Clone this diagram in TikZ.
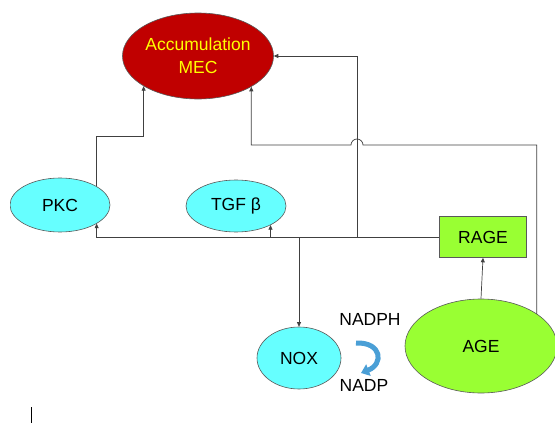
\documentclass[tikz,border=0pt]{standalone}
\usepackage{fontspec}
\setmainfont{Liberation Sans}
\usetikzlibrary{shapes.geometric,arrows.meta,calc}
\definecolor{mecred}{HTML}{C00000}
\definecolor{mecyellow}{HTML}{FFFF00}
\definecolor{cellcyan}{HTML}{66FFFF}
\definecolor{agegreen}{HTML}{99FF33}
\definecolor{nadpblue}{HTML}{4A9FD6}
\newcommand{\labelFont}[0]{\fontsize{17.5}{23}\selectfont}

\begin{document}
\begin{tikzpicture}[x=1pt, y=-1pt, >={Triangle[length=4.5pt,width=4pt]}]
  \tikzset{every node/.style={font=\labelFont},
    cell/.style={ellipse,draw=black!65,fill=cellcyan,inner sep=0pt,line width=0.6pt},
    box/.style={rectangle,draw=black!65,fill=agegreen,inner sep=0pt,line width=0.6pt},
    link/.style={draw=black!75,line width=0.7pt,->}}
  \useasboundingbox (0,0) rectangle (555,423);
  \clip (10,0) rectangle (555,423);
  \node[cell,fill=mecred,text=mecyellow,align=center,inner xsep=-2pt,minimum width=151pt,minimum height=86pt] (mec) at (198,56) {Accumulation\\MEC};
  \node[cell,minimum width=100pt,minimum height=54pt] (pkc) at (60,205) {PKC};
  \node[cell,minimum width=100pt,minimum height=52pt] (tgf) at (236,206) {TGF β};
  \node[box,minimum width=87pt,minimum height=41pt] (rage) at (483,237) {RAGE};
  \node[cell,minimum width=84pt,minimum height=62pt] (nox) at (299,358) {NOX};
  \node[cell,fill=agegreen,minimum width=152pt,minimum height=94pt] (age) at (481,346) {AGE};
  \node (nadph) at (370,319) {NADPH};
  \node (nadp) at (364,385) {NADP};
  \coordinate (up) at (357,237);
  \coordinate (hop) at (357,145);
  \draw[link] (rage.west) -| (pkc.333);
  \draw[link] (tgf.331 |- rage.west) -- (tgf.331);
  \draw[link] (nox.north |- rage.west) -- (nox.north);
  \draw[link] (up) |- (mec.east);
  \draw[link] (pkc.27) |- ($(pkc.27)!.5!(mec.209)$) -| (mec.209);
  \draw[link] (age.30) |- ([xshift=6pt]hop) arc[start angle=0,end angle=180,radius=6pt] -| (mec.330);
  \draw[link] (age.north) -- (rage.south);
  \draw[nadpblue,line width=5pt,-{Triangle[length=8pt,width=12pt]}] (356,343) .. controls (382,342) and (384,364) .. (361,373);
  \draw[black,line width=0.6pt] (31,407) -- (31,423);
\end{tikzpicture}
\end{document}
